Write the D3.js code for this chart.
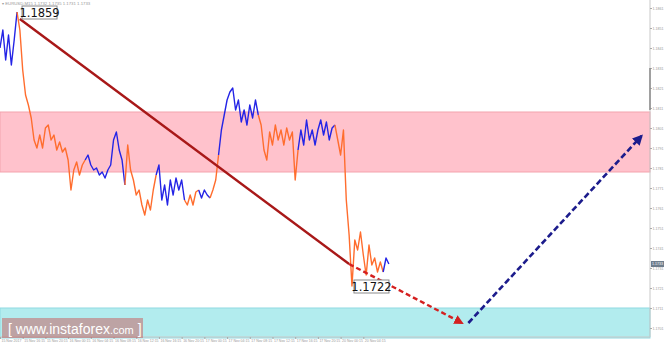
<!DOCTYPE html>
<html>
<head>
<meta charset="utf-8">
<script src="https://cdn.jsdelivr.net/npm/d3@7"></script>
<style>
  body { margin: 0; background: #fff; }
  svg { display: block; font-family: "DejaVu Sans", sans-serif; }
</style>
</head>
<body>
<svg id="chart" width="665" height="344"></svg>
<script>
// EURUSD, half-hour steps
var closes = [
  1.1841, 1.1850, 1.1835, 1.18475, 1.18325, 1.1845, 1.1859, 1.1850, 1.1830, 1.18175,
  1.18125, 1.1806, 1.1795, 1.1791, 1.17975, 1.1791, 1.1801, 1.18025, 1.1795, 1.17975,
  1.1790, 1.1794, 1.1789, 1.1791, 1.1785, 1.1770, 1.1780, 1.1784, 1.17775, 1.17825,
  1.1785, 1.17875, 1.17825, 1.1780, 1.1781, 1.17775, 1.1779, 1.1776, 1.1780, 1.17825,
  1.1795, 1.1799, 1.1790, 1.1785, 1.17725, 1.17925, 1.1780, 1.1775, 1.17675, 1.1770,
  1.17625, 1.17575, 1.1765, 1.1760, 1.1770, 1.17775, 1.17825, 1.1765, 1.17725, 1.17625,
  1.1775, 1.17675, 1.1776, 1.1770, 1.1775, 1.1765, 1.17625, 1.17675, 1.17625, 1.1769,
  1.1770, 1.1766, 1.1770, 1.17675, 1.1766, 1.1770, 1.1775, 1.17875, 1.1800, 1.18075,
  1.1815, 1.1819, 1.1821, 1.1810, 1.1815, 1.1804, 1.1810, 1.18025, 1.18125, 1.1806,
  1.1815, 1.18075, 1.18025, 1.1790, 1.1785, 1.1799, 1.17925, 1.18025, 1.1795, 1.1800,
  1.17925, 1.1801, 1.1795, 1.1799, 1.1775, 1.1790, 1.1800, 1.17925, 1.1805, 1.1795,
  1.1800, 1.17925, 1.1800, 1.1805, 1.17975, 1.1804, 1.1795, 1.1801, 1.18025, 1.1795,
  1.17875, 1.1800, 1.1765, 1.17475, 1.1722, 1.1745, 1.1740, 1.1749, 1.17375, 1.17275,
  1.17425, 1.17325, 1.1736, 1.1729, 1.1734, 1.1729, 1.1736, 1.1733
]

// wave pieces: [first index, last index, direction]
var waves = [
  [0, 6, 'up'], [6, 30, 'down'], [30, 44, 'up'], [44, 55, 'down'], [55, 65, 'up'],
  [65, 70, 'down'], [70, 74, 'up'], [74, 77, 'down'], [77, 91, 'up'], [91, 105, 'down'],
  [105, 118, 'up'], [118, 135, 'down'], [135, 137, 'up']
]

var dateLabels = [
  '15 Nov 2017', '15 Nov 16:15', '15 Nov 20:15', '16 Nov 00:15', '16 Nov 04:15',
  '16 Nov 08:15', '16 Nov 12:15', '16 Nov 16:15', '16 Nov 20:15', '17 Nov 00:15',
  '17 Nov 04:15', '17 Nov 08:15', '17 Nov 12:15', '17 Nov 16:15', '17 Nov 20:15',
  '20 Nov 00:15', '20 Nov 04:15'
]

var priceTicks = [
  1.1861, 1.1851, 1.1841, 1.1831, 1.1821, 1.1811, 1.1801, 1.1791, 1.1781,
  1.1771, 1.1761, 1.1751, 1.1741, 1.1731, 1.1721, 1.1711, 1.1701
]

var resistanceZone = [1.1809, 1.1779]
var supportZone = [1.1711, 1.1696]

// [index, price] pairs
var fallArrow = [[7, 1.18555], [123, 1.1733], [162.8, 1.17035]]
var riseArrow = [[165, 1.17035], [226, 1.1797]]

var highLabel = { i: 6, price: 1.1859 }
var lowLabel = { i: 124, price: 1.1722 }
var lastPrice = 1.1733

var plotRight = 650, plotBottom = 337
var smallFont = '"Liberation Sans", Arial, sans-serif'

var svg = d3.select('#chart')

var x = d3.scaleLinear()
          .domain([0, 229])
          .range([0, plotRight])
var y = d3.scaleLinear()
          .domain([1.1861, 1.1701])
          .range([8, 328])

var defs = svg.append('defs')
defs.append('marker')
    .attr('id', 'head-red')
    .attr('viewBox', '0 0 10 10')
    .attr('refX', 8).attr('refY', 5)
    .attr('markerWidth', 4).attr('markerHeight', 4)
    .attr('orient', 'auto')
    .append('path').attr('d', 'M0,0 L10,5 L0,10 z').attr('fill', '#d42020')
defs.append('marker')
    .attr('id', 'head-navy')
    .attr('viewBox', '0 0 10 10')
    .attr('refX', 8).attr('refY', 5)
    .attr('markerWidth', 4).attr('markerHeight', 4)
    .attr('orient', 'auto')
    .append('path').attr('d', 'M0,0 L10,5 L0,10 z').attr('fill', '#1c1c8c')

// zones
svg.append('rect')
   .attr('x', 0).attr('width', plotRight)
   .attr('y', y(resistanceZone[0]))
   .attr('height', y(resistanceZone[1]) - y(resistanceZone[0]))
   .attr('fill', '#ffc2cc').attr('stroke', '#f4a3ad').attr('stroke-width', 1)
svg.append('rect')
   .attr('x', 0).attr('width', plotRight)
   .attr('y', y(supportZone[0]))
   .attr('height', y(supportZone[1]) - y(supportZone[0]))
   .attr('fill', '#b2ecee').attr('stroke', '#8fd9e2').attr('stroke-width', 1)

// price line
var line = d3.line()
             .x(function(d) { return x(d.i) })
             .y(function(d) { return y(d.v) })
waves.forEach(function(w) {
  var pts = []
  for (var i = w[0]; i <= w[1]; i++) pts.push({ i: i, v: closes[i] })
  svg.append('path')
     .datum(pts)
     .attr('d', line)
     .attr('fill', 'none')
     .attr('stroke', w[2] == 'up' ? '#2424e6' : '#ff6d2e')
     .attr('stroke-width', 1.4)
     .attr('stroke-linejoin', 'round')
})

// arrows
var arrowLine = d3.line()
                  .x(function(d) { return x(d[0]) })
                  .y(function(d) { return y(d[1]) })
svg.append('path')
   .datum(fallArrow.slice(0, 2))
   .attr('d', arrowLine)
   .attr('stroke', '#a81818').attr('stroke-width', 2.4).attr('fill', 'none')
svg.append('path')
   .datum(fallArrow.slice(1))
   .attr('d', arrowLine)
   .attr('stroke', '#d42020').attr('stroke-width', 2.4).attr('fill', 'none')
   .attr('stroke-dasharray', '5,3')
   .attr('marker-end', 'url(#head-red)')
svg.append('path')
   .datum(riseArrow)
   .attr('d', arrowLine)
   .attr('stroke', '#1c1c8c').attr('stroke-width', 2.6).attr('fill', 'none')
   .attr('stroke-dasharray', '6,3')
   .attr('marker-end', 'url(#head-navy)')

// extreme labels
function priceBox(px, py, text) {
  var g = svg.append('g').attr('transform', 'translate(' + px + ',' + py + ')')
  g.append('rect')
   .attr('width', 35).attr('height', 13)
   .attr('fill', '#fff').attr('stroke', '#8a8a8a').attr('stroke-width', 1)
  g.append('text')
   .attr('x', 17.5).attr('y', 11)
   .attr('text-anchor', 'middle')
   .attr('font-size', 11.5).attr('fill', '#111')
   .text(text)
}
priceBox(x(highLabel.i) + 5, y(highLabel.price) - 6, highLabel.price.toFixed(4))
priceBox(x(lowLabel.i) + 2, y(lowLabel.price) - 6, lowLabel.price.toFixed(4))

// right axis
var yAxis = d3.axisRight(y)
              .tickValues(priceTicks)
              .tickSize(2)
              .tickFormat(d3.format('.4f'))
var ya = svg.append('g')
            .attr('transform', 'translate(' + plotRight + ',0)')
            .call(yAxis)
ya.select('.domain').attr('stroke', '#c8c8c8').attr('d', 'M0,0V' + plotBottom)
ya.selectAll('line').attr('stroke', '#aaa')
ya.selectAll('text')
  .attr('font-family', smallFont)
  .attr('font-size', 3.6).attr('fill', '#999').attr('x', 2.5)
svg.append('line')
   .attr('x1', plotRight).attr('x2', plotRight)
   .attr('y1', 68).attr('y2', 110)
   .attr('stroke', '#8a8a8a').attr('stroke-width', 1.5)
svg.append('rect')
   .attr('x', plotRight + 1).attr('y', y(lastPrice) - 3)
   .attr('width', 13).attr('height', 6)
   .attr('fill', '#6f7d8c')
svg.append('text')
   .attr('x', plotRight + 2).attr('y', y(lastPrice) + 1.4)
   .attr('font-family', smallFont)
   .attr('font-size', 3.6).attr('fill', '#fff')
   .text(lastPrice.toFixed(4))

// bottom axis
svg.append('line')
   .attr('x1', 0).attr('x2', plotRight)
   .attr('y1', plotBottom).attr('y2', plotBottom)
   .attr('stroke', '#c8c8c8')
var xa = svg.append('g')
xa.selectAll('text')
  .data(dateLabels)
  .enter()
  .append('text')
  .attr('x', function(d, k) { return x(k * 8) + 1.5 })
  .attr('y', 342)
  .attr('font-family', smallFont)
  .attr('font-size', 3.5)
  .attr('fill', '#999')
  .text(function(d) { return d })
xa.selectAll('line')
  .data(dateLabels)
  .enter()
  .append('line')
  .attr('x1', function(d, k) { return x(k * 8) + 0.5 })
  .attr('x2', function(d, k) { return x(k * 8) + 0.5 })
  .attr('y1', plotBottom).attr('y2', plotBottom + 2)
  .attr('stroke', '#aaa')

// title
svg.append('text')
   .attr('x', 2).attr('y', 5)
   .attr('font-family', smallFont)
   .attr('font-size', 4.3).attr('fill', '#999')
   .text('\u25BE EURUSD,M15  1.1732 1.1735 1.1731 1.1733')

// watermark
svg.append('rect')
   .attr('x', 2).attr('y', 318)
   .attr('width', 141).attr('height', 20)
   .attr('fill', '#c85a5a').attr('fill-opacity', 0.5)
var wm = svg.append('text')
            .attr('x', 8).attr('y', 334)
            .attr('fill', '#fff')
            .attr('font-family', 'Arial, "Liberation Sans", sans-serif')
            .attr('font-size', 14)
wm.append('tspan').text('[ www.instaforex')
wm.append('tspan').attr('font-size', 11).text('.com')
wm.append('tspan').text(' ]')
</script>
</body>
</html>
